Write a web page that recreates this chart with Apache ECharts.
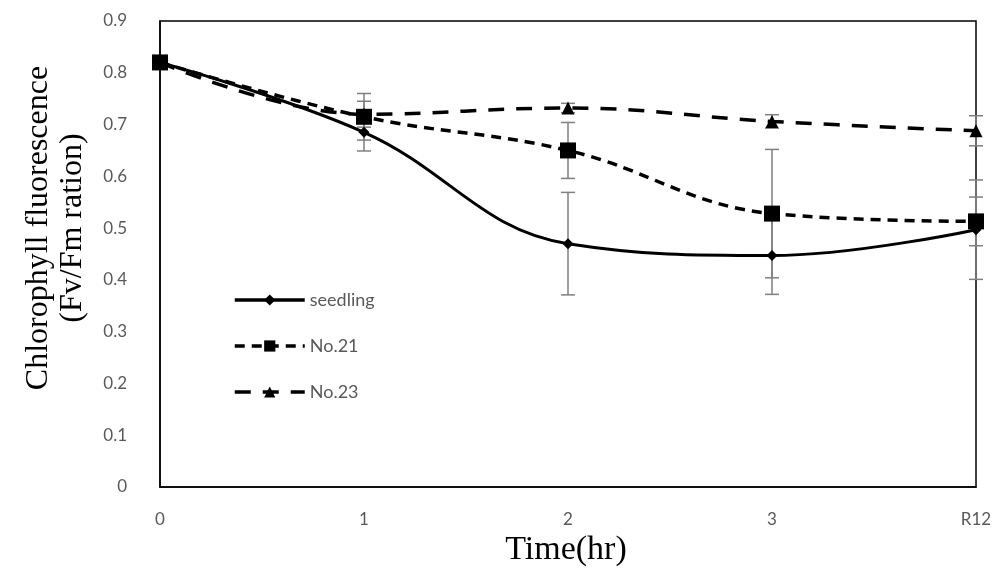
<!DOCTYPE html>
<html>
<head>
<meta charset="utf-8">
<style>
  html, body { margin: 0; padding: 0; background: #fff; }
  #chart { width: 999px; height: 569px; }
</style>
<script src="https://cdn.jsdelivr.net/npm/echarts@6/dist/echarts.min.js"></script>
</head>
<body>
<div id="chart"></div>
<script>
// time points
const categories = ['0', '1', '2', '3', 'R12']
const yTicks = [0, 0.1, 0.2, 0.3, 0.4, 0.5, 0.6, 0.7, 0.8, 0.9]

// Fv/Fm means and error bar half-widths
const seedling = [0.82, 0.685, 0.47, 0.447, 0.497]
const seedlingErr = [0, 0.036, 0.099, 0.075, 0.096]
const no21 = [0.82, 0.715, 0.65, 0.528, 0.513]
const no21Err = [0, 0.045, 0.054, 0.124, 0.047]
const no23 = [0.82, 0.72, 0.732, 0.706, 0.688]
const no23Err = [0, 0.025, 0.009, 0.013, 0.029]

const chart = echarts.init(document.getElementById('chart'))

function errorBars(name, values, errs) {
  return {
    name: name + ' err',
    type: 'custom',
    z: 1,
    silent: true,
    data: values.map((v, i) => [i, v - errs[i], v + errs[i]]),
    renderItem: function(params, api) {
      if (api.value(2) - api.value(1) <= 0) return null
      const lo = api.coord([api.value(0), api.value(1)])
      const hi = api.coord([api.value(0), api.value(2)])
      const w = 7
      const style = { stroke: '#7f7f7f', lineWidth: 1.5 }
      return {
        type: 'group',
        children: [
          { type: 'line', shape: { x1: hi[0], y1: hi[1], x2: lo[0], y2: lo[1] }, style: style },
          { type: 'line', shape: { x1: hi[0] - w, y1: hi[1], x2: hi[0] + w, y2: hi[1] }, style: style },
          { type: 'line', shape: { x1: lo[0] - w, y1: lo[1], x2: lo[0] + w, y2: lo[1] }, style: style }
        ]
      }
    }
  }
}

chart.setOption({
  animation: false,
  grid: {
    left: 160, right: 23, top: 21, bottom: 82,
    show: true, borderColor: '#000', borderWidth: 1.5
  },
  legend: {
    orient: 'vertical',
    left: 228,
    top: 286,
    itemWidth: 70,
    itemHeight: 14,
    itemGap: 28,
    data: ['seedling', 'No.21', 'No.23'],
    lineStyle: { width: 3.5 },
    textStyle: { fontFamily: 'Lato', fontSize: 18, color: '#595959' }
  },
  xAxis: {
    type: 'category',
    data: categories,
    boundaryGap: false,
    axisLine: { lineStyle: { color: '#000', width: 1.5 } },
    axisTick: { show: false },
    axisLabel: { margin: 24, fontFamily: 'Lato', fontSize: 17, color: '#595959' },
    splitLine: { show: false }
  },
  yAxis: {
    type: 'value',
    min: 0,
    max: 0.9,
    interval: 0.1,
    axisLine: { show: true, lineStyle: { color: '#000', width: 1.5 } },
    axisTick: { show: false },
    splitLine: { show: false },
    axisLabel: {
      margin: 33,
      fontFamily: 'Lato', fontSize: 17, color: '#595959',
      formatter: v => {
        const t = yTicks.find(x => Math.abs(x - v) < 1e-6)
        return t === 0 ? '0' : String(+t.toFixed(1))
      }
    }
  },
  graphic: [
    {
      type: 'text',
      x: 56, y: 228,
      rotation: Math.PI / 2,
      style: {
        text: 'Chlorophyll fluorescence\n(Fv/Fm ration)',
        font: '32px "Liberation Serif"',
        fill: '#000',
        align: 'center',
        verticalAlign: 'middle',
        lineHeight: 34
      }
    },
    {
      type: 'text',
      x: 566, y: 550,
      style: {
        text: 'Time(hr)',
        font: '34px "Liberation Serif"',
        fill: '#000',
        align: 'center',
        verticalAlign: 'middle'
      }
    }
  ],
  series: [
    errorBars('seedling', seedling, seedlingErr),
    errorBars('No.21', no21, no21Err),
    errorBars('No.23', no23, no23Err),
    {
      name: 'No.23',
      type: 'line',
      z: 3,
      data: no23,
      smooth: 0.4,
      symbol: 'triangle',
      symbolSize: 13,
      itemStyle: { color: '#000' },
      lineStyle: { color: '#000', width: 3.5, type: [16, 12] }
    },
    {
      name: 'No.21',
      type: 'line',
      z: 4,
      data: no21,
      smooth: 0.4,
      symbol: 'rect',
      symbolSize: 16,
      itemStyle: { color: '#000' },
      lineStyle: { color: '#000', width: 3.5, type: [10, 7] }
    },
    {
      name: 'seedling',
      type: 'line',
      z: 5,
      data: seedling,
      smooth: 0.4,
      symbol: 'diamond',
      symbolSize: 11,
      itemStyle: { color: '#000' },
      lineStyle: { color: '#000', width: 3 }
    }
  ]
})
</script>
</body>
</html>
